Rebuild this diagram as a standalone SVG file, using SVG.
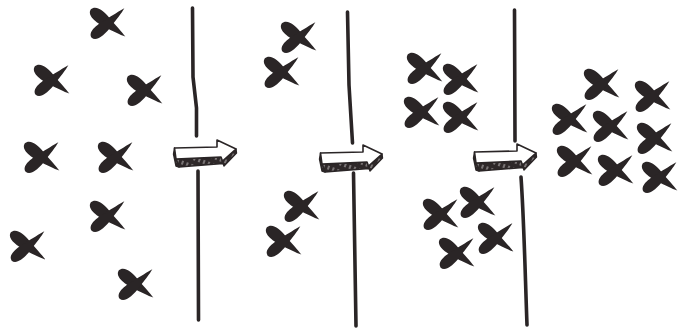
<svg xmlns="http://www.w3.org/2000/svg" xmlns:xlink="http://www.w3.org/1999/xlink" width="683" height="329" viewBox="0 0 683 329">
<style>
.ink{fill:#2a2526}
.wall{fill:none;stroke:#2a2526;stroke-width:3.6;stroke-linecap:round;stroke-linejoin:round}
.face{fill:#fff;stroke:#2a2526;stroke-width:1.6;stroke-linejoin:round}
.side{fill:url(#hatch);stroke:#2a2526;stroke-width:1.4;stroke-linejoin:round}
</style>
<defs>
<pattern id="hatch" width="5" height="8" patternUnits="userSpaceOnUse" patternTransform="rotate(20)">
<rect width="5" height="8" fill="#2e2829"/>
<line x1="2" y1="1" x2="2" y2="5" stroke="#d8d4d4" stroke-width="0.9"/>
</pattern>
<g id="xm">
<path class="ink" transform="rotate(38)" d="M-22,0 C-21,-7.5 -10,-7 0,-4.6 C8,-2.8 17,-1.5 22,0 C17,1.8 8,3.6 0,5 C-10,7 -21,7 -22,0 Z"/>
<path class="ink" transform="rotate(-42)" d="M-22,0 C-21,-7 -10,-6.4 0,-4.2 C8,-2.6 17,-1.3 22,0 C17,1.7 8,3.3 0,4.6 C-10,6.5 -21,6.5 -22,0 Z"/>
</g>
<g id="arrow">
<path class="side" d="M3,20 L48,18 L49.5,22 L63,10 L63.5,14 L51,27 L50,24.5 L6,28 Z"/>
<path class="side" d="M1.5,9 L3,20 L6,28 L3,27 L0.5,15 Z"/>
<path class="face" d="M1.5,9 L44,8 L44,1 L63,10 L49.5,22 L48,18 L3,20 Z"/>
</g>
</defs>

<g id="connectors">
<path class="wall" d="M192.5,8 L193,77 L196.5,108 L196.5,136"/>
<path class="wall" d="M198,171 L198.5,320"/>
<path class="wall" d="M347.5,12 L349,85 L352.5,143"/>
<path class="wall" d="M353.5,173 L356,326"/>
<path class="wall" d="M514.5,10 L515,141"/>
<path class="wall" d="M521,177 C524,220 525,270 527,325"/>
</g>

<g id="arrow1"><use xlink:href="#arrow" x="173" y="139"/></g>
<g id="arrow2"><use xlink:href="#arrow" x="319" y="144"/></g>
<g id="arrow3"><use xlink:href="#arrow" x="473" y="143"/></g>

<g id="p1x1"><use xlink:href="#xm" x="108" y="23"/></g>
<g id="p1x2"><use xlink:href="#xm" x="52" y="80"/></g>
<g id="p1x3"><use xlink:href="#xm" x="145" y="90"/></g>
<g id="p1x4"><use xlink:href="#xm" x="42" y="157"/></g>
<g id="p1x5"><use xlink:href="#xm" x="116" y="157"/></g>
<g id="p1x6"><use xlink:href="#xm" x="108" y="216"/></g>
<g id="p1x7"><use xlink:href="#xm" x="28" y="246"/></g>
<g id="p1x8"><use xlink:href="#xm" x="136" y="284"/></g>

<g id="p2x1"><use xlink:href="#xm" x="299" y="37"/></g>
<g id="p2x2"><use xlink:href="#xm" x="282" y="72"/></g>
<g id="p2x3"><use xlink:href="#xm" x="302" y="206"/></g>
<g id="p2x4"><use xlink:href="#xm" x="284" y="241"/></g>

<g id="p3x1"><use xlink:href="#xm" x="425" y="68"/></g>
<g id="p3x2"><use xlink:href="#xm" x="461" y="79"/></g>
<g id="p3x3"><use xlink:href="#xm" x="422" y="112"/></g>
<g id="p3x4"><use xlink:href="#xm" x="461" y="117"/></g>
<g id="p3x5"><use xlink:href="#xm" x="441" y="214"/></g>
<g id="p3x6"><use xlink:href="#xm" x="478" y="202"/></g>
<g id="p3x7"><use xlink:href="#xm" x="496" y="238"/></g>
<g id="p3x8"><use xlink:href="#xm" x="457" y="253"/></g>

<g id="p4x1"><use xlink:href="#xm" x="602" y="84"/></g>
<g id="p4x2"><use xlink:href="#xm" x="653" y="96"/></g>
<g id="p4x3"><use xlink:href="#xm" x="570" y="119"/></g>
<g id="p4x4"><use xlink:href="#xm" x="611" y="126"/></g>
<g id="p4x5"><use xlink:href="#xm" x="655" y="138"/></g>
<g id="p4x6"><use xlink:href="#xm" x="575" y="161"/></g>
<g id="p4x7"><use xlink:href="#xm" x="616" y="170"/></g>
<g id="p4x8"><use xlink:href="#xm" x="660" y="177"/></g>
</svg>
